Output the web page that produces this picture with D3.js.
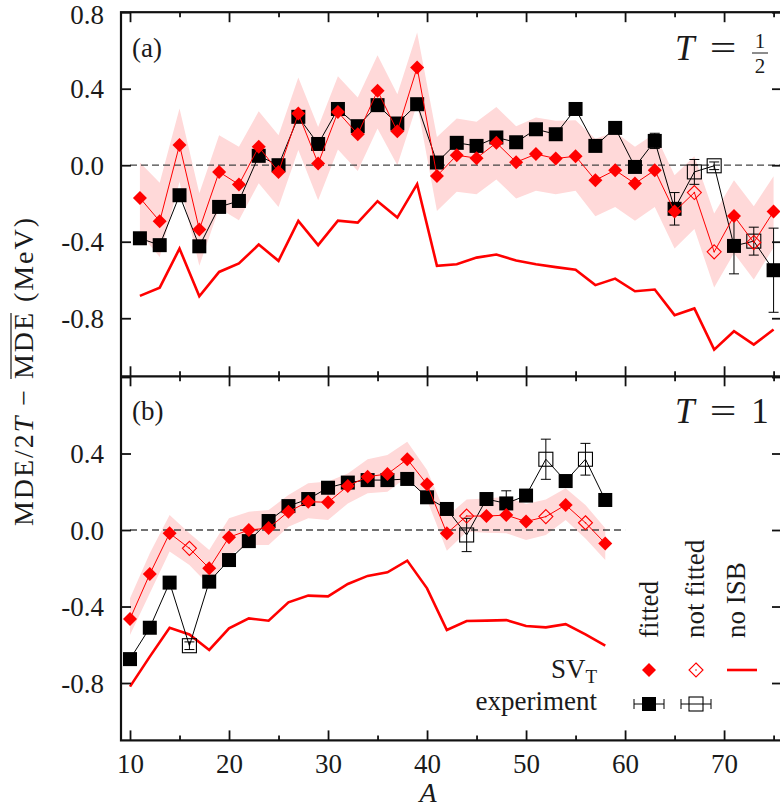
<!DOCTYPE html>
<html lang="en">
<head>
<meta charset="utf-8">
<title>MDE residuals, T = 1/2 and T = 1</title>
<style>
  body { margin: 0; background: #fff; }
  svg text { font-family: "Liberation Serif", "DejaVu Serif", serif; fill: #1a1a1a; }
</style>
</head>
<body>
<svg id="chart" width="780" height="810"></svg>
<script src="https://d3js.org/d3.v7.min.js"></script>
<script>
// ---- panel (a): T = 1/2, odd A ----
var aHalf = [11, 13, 15, 17, 19, 21, 23, 25, 27, 29, 31, 33, 35, 37, 39, 41, 43,
             45, 47, 49, 51, 53, 55, 57, 59, 61, 63, 65, 67, 69, 71, 73, 75];
var expHalf = [-0.382, -0.418, -0.157, -0.424, -0.218, -0.187, 0.049, 0.000, 0.253, 0.111, 0.294,
               0.204, 0.314, 0.218, 0.319, 0.014, 0.117, 0.101, 0.145, 0.120, 0.188, 0.162,
               0.294, 0.101, 0.195, -0.009, 0.127, -0.228, -0.035, -0.003, -0.422, -0.397, -0.549];
var expHalfErr = [0.01, 0.01, 0.01, 0.01, 0.01, 0.01, 0.01, 0.01, 0.01, 0.01, 0.01,
                  0.01, 0.01, 0.01, 0.01, 0.01, 0.01, 0.01, 0.01, 0.01, 0.01, 0.01,
                  0.02, 0.02, 0.02, 0.02, 0.04, 0.085, 0.065, 0.02, 0.146, 0.073, 0.22];
var svHalf = [-0.171, -0.293, 0.106, -0.336, -0.035, -0.101, 0.096, -0.035, 0.270, 0.009, 0.278,
              0.162, 0.389, 0.178, 0.511, -0.056, 0.052, 0.037, 0.117, 0.016, 0.058, 0.035,
              0.047, -0.078, -0.026, -0.096, -0.026, -0.242, -0.143, -0.453, -0.265, -0.404, -0.242];
var svHalfHi = [0.014, -0.092, 0.296, -0.146, 0.157, 0.096, 0.282, 0.157, 0.458, 0.200, 0.465,
                0.354, 0.575, 0.371, 0.694, 0.148, 0.244, 0.227, 0.305, 0.204, 0.249, 0.232,
                0.235, 0.139, 0.174, 0.096, 0.166, -0.052, 0.047, -0.253, -0.078, -0.214, -0.058];
var svHalfLo = [-0.356, -0.480, -0.087, -0.526, -0.225, -0.288, -0.094, -0.218, 0.080, -0.183, 0.082,
                -0.030, 0.192, 0.000, 0.320, -0.239, -0.139, -0.152, -0.075, -0.174, -0.134, -0.152,
                -0.134, -0.267, -0.218, -0.291, -0.218, -0.436, -0.333, -0.640, -0.460, -0.598, -0.430];
var noIsbHalf = [-0.683, -0.640, -0.436, -0.685, -0.558, -0.514, -0.415, -0.500, -0.291, -0.418, -0.290,
                 -0.300, -0.188, -0.274, -0.099, -0.526, -0.518, -0.483, -0.467, -0.498, -0.518, -0.533,
                 -0.546, -0.627, -0.593, -0.659, -0.650, -0.784, -0.749, -0.964, -0.868, -0.938, -0.859];
var notFittedHalf = [67, 69, 73];

// ---- panel (b): T = 1, even A ----
var aOne = [10, 12, 14, 16, 18, 20, 22, 24, 26, 28, 30, 32, 34, 36, 38, 40, 42,
            44, 46, 48, 50, 52, 54, 56, 58];
var expOne = [-0.675, -0.511, -0.275, -0.605, -0.270, -0.157, -0.058, 0.047, 0.125, 0.162, 0.221,
              0.248, 0.261, 0.261, 0.267, 0.171, 0.110, -0.026, 0.162, 0.139, 0.180, 0.370,
              0.256, 0.370, 0.157];
var expOneErr = [0.01, 0.01, 0.01, 0.02, 0.01, 0.01, 0.01, 0.01, 0.01, 0.01, 0.01,
                 0.01, 0.01, 0.01, 0.01, 0.01, 0.01, 0.087, 0.01, 0.066, 0.01, 0.105,
                 0.01, 0.083, 0.01];
var svOne = [-0.465, -0.230, -0.017, -0.096, -0.200, -0.038, 0.000, 0.010, 0.096, 0.148, 0.145,
             0.230, 0.279, 0.293, 0.370, 0.239, -0.017, 0.073, 0.073, 0.078, 0.044, 0.070,
             0.131, 0.038, -0.070];
var svOneHi = [-0.357, -0.122, 0.078, -0.017, -0.105, 0.061, 0.096, 0.105, 0.183, 0.244, 0.253,
               0.296, 0.370, 0.392, 0.462, 0.314, 0.070, 0.160, 0.165, 0.174, 0.136, 0.160,
               0.218, 0.131, 0.009];
var svOneLo = [-0.549, -0.331, -0.113, -0.183, -0.290, -0.130, -0.078, -0.078, 0.017, 0.061, 0.052,
               0.139, 0.192, 0.200, 0.279, 0.157, -0.108, -0.009, -0.014, -0.017, -0.052, -0.026,
               0.052, -0.044, -0.157];
var noIsbOne = [-0.819, -0.662, -0.511, -0.546, -0.627, -0.514, -0.462, -0.474, -0.378, -0.343, -0.347,
                -0.282, -0.240, -0.221, -0.160, -0.305, -0.523, -0.476, -0.474, -0.471, -0.502, -0.509,
                -0.492, -0.546, -0.605];
var notFittedOne = [16, 44, 52, 56];

// ---- ticks ----
var xMajor = [10, 20, 30, 40, 50, 60, 70];
var xMinor = [15, 25, 35, 45, 55, 65, 75];
var xLabels = ['10', '20', '30', '40', '50', '60', '70'];
var yTicks = [0.8, 0.4, 0, -0.4, -0.8];
var yLabelsTop = ['0.8', '0.4', '0.0', '-0.4', '-0.8'];
var yTicksBot = [0.4, 0, -0.4, -0.8];
var yLabelsBot = ['0.4', '0.0', '-0.4', '-0.8'];

var svg = d3.select('#chart');
var red = '#ff0000';
var fs = 27;

var x = d3.scaleLinear().domain([9.09, 75.85]).range([121, 782]);
var yTop = d3.scaleLinear().domain([-1.1, 0.8]).range([375.6, 12.2]);
var yBot = d3.scaleLinear().domain([-1.1, 0.8]).range([740.4, 377]);

function diamond(r) { return 'M0,' + (-r) + 'L' + r + ',0L0,' + r + 'L' + (-r) + ',0Z'; }

function drawPanel(a, exp, err, sv, lo, hi, noIsb, notFitted, y, zeroEnd) {
  var pts = a.map(function(v, i) {
    return { a: v, exp: exp[i], err: err[i], sv: sv[i], lo: lo[i], hi: hi[i],
             noIsb: noIsb[i], open: notFitted.indexOf(v) >= 0 };
  });
  var g = svg.append('g');

  g.append('path').datum(pts)
    .attr('fill', '#ffd9d9')
    .attr('d', d3.area().x(function(d) { return x(d.a); })
      .y0(function(d) { return y(d.lo); }).y1(function(d) { return y(d.hi); }));

  g.append('line')
    .attr('x1', x(10)).attr('x2', x(zeroEnd))
    .attr('y1', y(0)).attr('y2', y(0))
    .attr('stroke', '#444').attr('stroke-width', 1.3).attr('stroke-dasharray', '7,4');

  g.append('path').datum(pts)
    .attr('fill', 'none').attr('stroke', red).attr('stroke-width', 2.6)
    .attr('stroke-linejoin', 'miter')
    .attr('d', d3.line().x(function(d) { return x(d.a); }).y(function(d) { return y(d.noIsb); }));

  // experiment
  g.append('path').datum(pts)
    .attr('fill', 'none').attr('stroke', '#000').attr('stroke-width', 1)
    .attr('d', d3.line().x(function(d) { return x(d.a); }).y(function(d) { return y(d.exp); }));

  var eb = g.selectAll('.eb').data(pts).enter().append('g')
    .attr('transform', function(d) { return 'translate(' + x(d.a) + ',0)'; })
    .attr('stroke', '#000').attr('stroke-width', 1);
  eb.append('line').attr('x1', 0).attr('x2', 0)
    .attr('y1', function(d) { return y(d.exp - d.err); })
    .attr('y2', function(d) { return y(d.exp + d.err); });
  eb.append('line').attr('x1', -5).attr('x2', 5)
    .attr('y1', function(d) { return y(d.exp - d.err); })
    .attr('y2', function(d) { return y(d.exp - d.err); });
  eb.append('line').attr('x1', -5).attr('x2', 5)
    .attr('y1', function(d) { return y(d.exp + d.err); })
    .attr('y2', function(d) { return y(d.exp + d.err); });

  g.selectAll('.sq').data(pts).enter().append('rect')
    .attr('x', function(d) { return x(d.a) - 7; })
    .attr('y', function(d) { return y(d.exp) - 7; })
    .attr('width', 14).attr('height', 14)
    .attr('fill', function(d) { return d.open ? 'none' : '#000'; })
    .attr('stroke', '#000')
    .attr('stroke-width', function(d) { return d.open ? 1.1 : 0; });

  // SV_T
  g.append('path').datum(pts)
    .attr('fill', 'none').attr('stroke', red).attr('stroke-width', 1)
    .attr('d', d3.line().x(function(d) { return x(d.a); }).y(function(d) { return y(d.sv); }));

  var dm = g.selectAll('.dm').data(pts).enter().append('g')
    .attr('transform', function(d) { return 'translate(' + x(d.a) + ',' + y(d.sv) + ')'; });
  dm.append('path').attr('d', diamond(7))
    .attr('fill', function(d) { return d.open ? 'none' : red; })
    .attr('stroke', red)
    .attr('stroke-width', function(d) { return d.open ? 1.1 : 0; });
  dm.filter(function(d) { return d.open; }).append('circle')
    .attr('r', 0.8).attr('fill', red);
}

drawPanel(aHalf, expHalf, expHalfErr, svHalf, svHalfLo, svHalfHi, noIsbHalf, notFittedHalf, yTop, 75.85);
drawPanel(aOne, expOne, expOneErr, svOne, svOneLo, svOneHi, noIsbOne, notFittedOne, yBot, 60);

// ---- axes ----
function styleTicks(g, w) {
  g.select('.domain').remove();
  g.selectAll('line').attr('stroke', '#111').attr('stroke-width', w);
}
function xTicks(yPos, down, values, size) {
  var ax = (down ? d3.axisBottom(x) : d3.axisTop(x)).tickValues(values).tickSize(size).tickFormat('');
  styleTicks(svg.append('g').attr('transform', 'translate(0,' + yPos + ')').call(ax), 1.8);
}
xTicks(12.2, true, xMajor, 10);
xTicks(12.2, true, xMinor, 5);
xTicks(376.3, true, xMajor, 10);
xTicks(376.3, true, xMinor, 5);
xTicks(376.3, false, xMajor, 10);
xTicks(376.3, false, xMinor, 5);
xTicks(740.4, false, xMajor, 10);
xTicks(740.4, false, xMinor, 5);

var xl = svg.append('g').attr('transform', 'translate(0,740.4)')
  .call(d3.axisBottom(x).tickValues(xMajor).tickSize(0)
    .tickFormat(function(d, i) { return xLabels[i]; }));
xl.select('.domain').remove();
xl.selectAll('text').attr('y', 33).attr('dy', 0).attr('font-size', fs)
  .attr('font-family', '"Liberation Serif", serif').attr('fill', '#1a1a1a');

function yAxes(y, vals, labels) {
  styleTicks(svg.append('g').attr('transform', 'translate(121,0)')
    .call(d3.axisRight(y).tickValues(yTicks).tickSize(10).tickFormat('')), 1.8);
  styleTicks(svg.append('g').attr('transform', 'translate(782,0)')
    .call(d3.axisLeft(y).tickValues(yTicks).tickSize(10).tickFormat('')), 1.8);
  var lab = svg.append('g').attr('transform', 'translate(121,0)')
    .call(d3.axisLeft(y).tickValues(vals).tickSize(0).tickPadding(17)
      .tickFormat(function(d, i) { return labels[i]; }));
  lab.select('.domain').remove();
  lab.selectAll('text').attr('font-size', fs)
    .attr('dy', function(d) { return d === 0.8 ? '0.42em' : '0.34em'; })
    .attr('font-family', '"Liberation Serif", serif').attr('fill', '#1a1a1a');
}
yAxes(yTop, yTicks, yLabelsTop);
yAxes(yBot, yTicksBot, yLabelsBot);

// frame
var frame = svg.append('g').attr('stroke', '#111').attr('stroke-width', 2.2).attr('fill', 'none');
frame.append('rect').attr('x', 121).attr('y', 12.2).attr('width', 661).attr('height', 728.2);
frame.append('line').attr('x1', 121).attr('x2', 782).attr('y1', 376.3).attr('y2', 376.3);

// ---- texts ----
svg.append('text').attr('x', 132).attr('y', 57).attr('font-size', fs).text('(a)');
svg.append('text').attr('x', 132).attr('y', 420).attr('font-size', fs).text('(b)');

function tLabel(base, value) {
  svg.append('text').attr('x', 675).attr('y', base).attr('font-size', 35)
    .attr('font-style', 'italic').text('T');
  svg.append('text').attr('font-size', 35).attr('text-anchor', 'middle')
    .attr('transform', 'translate(723,' + base + ') scale(1.35,1)').text('=');
  if (value) {
    svg.append('text').attr('x', 760).attr('y', base).attr('font-size', 35)
      .attr('text-anchor', 'middle').text(value);
  }
}
tLabel(60, null);
svg.append('text').attr('x', 760).attr('y', 48).attr('font-size', 21).attr('text-anchor', 'middle').text('1');
svg.append('line').attr('x1', 752).attr('x2', 768).attr('y1', 53).attr('y2', 53)
  .attr('stroke', '#1a1a1a').attr('stroke-width', 1);
svg.append('text').attr('x', 760).attr('y', 73).attr('font-size', 21).attr('text-anchor', 'middle').text('2');
tLabel(423, '1');

svg.append('text').attr('x', x(40.1)).attr('y', 802).attr('font-size', 28)
  .attr('font-style', 'italic').attr('text-anchor', 'middle').text('A');

var yl = svg.append('g').attr('transform', 'translate(33,372) rotate(-90)');
var yt = yl.append('text').attr('text-anchor', 'middle').attr('font-size', 28)
  .attr('textLength', 308).attr('lengthAdjust', 'spacing');
yt.append('tspan').text('MDE/2');
yt.append('tspan').attr('font-style', 'italic').text('T');
yt.append('tspan').text(' \u2212 ');
yt.append('tspan').text('MDE');
yt.append('tspan').text(' (MeV)');
var ovX1 = yt.node().getStartPositionOfChar(9).x;
var ovX2 = yt.node().getEndPositionOfChar(11).x;
yl.append('line').attr('x1', ovX1).attr('x2', ovX2).attr('y1', -22).attr('y2', -22)
  .attr('stroke', '#1a1a1a').attr('stroke-width', 1.2);

// ---- legend ----
[['fitted', 658], ['not fitted', 704], ['no ISB', 745]].forEach(function(h) {
  svg.append('text').attr('transform', 'translate(' + h[1] + ',638) rotate(-90)')
    .attr('font-size', fs).text(h[0]);
});
var sv = svg.append('text').attr('x', 597).attr('y', 678).attr('font-size', fs).attr('text-anchor', 'end');
sv.append('tspan').text('SV');
sv.append('tspan').attr('font-size', 19).attr('dy', 5).text('T');
svg.append('text').attr('x', 597).attr('y', 710).attr('font-size', fs).attr('text-anchor', 'end').text('experiment');

svg.append('path').attr('transform', 'translate(649,670)').attr('d', diamond(7)).attr('fill', red);
svg.append('path').attr('transform', 'translate(696,670)').attr('d', diamond(7))
  .attr('fill', 'none').attr('stroke', red).attr('stroke-width', 1.1);
svg.append('circle').attr('cx', 696).attr('cy', 670).attr('r', 0.8).attr('fill', red);
svg.append('line').attr('x1', 727).attr('x2', 757).attr('y1', 670).attr('y2', 670)
  .attr('stroke', red).attr('stroke-width', 2.6);

[[649, false], [696, true]].forEach(function(m) {
  var lg = svg.append('g').attr('transform', 'translate(' + m[0] + ',704)')
    .attr('stroke', '#000').attr('stroke-width', 1);
  lg.append('line').attr('x1', -15).attr('x2', 15).attr('y1', 0).attr('y2', 0);
  lg.append('line').attr('x1', -15).attr('x2', -15).attr('y1', -5).attr('y2', 5);
  lg.append('line').attr('x1', 15).attr('x2', 15).attr('y1', -5).attr('y2', 5);
  lg.append('rect').attr('x', -7).attr('y', -7).attr('width', 14).attr('height', 14)
    .attr('fill', m[1] ? 'none' : '#000').attr('stroke-width', m[1] ? 1.1 : 0);
});
</script>
</body>
</html>
